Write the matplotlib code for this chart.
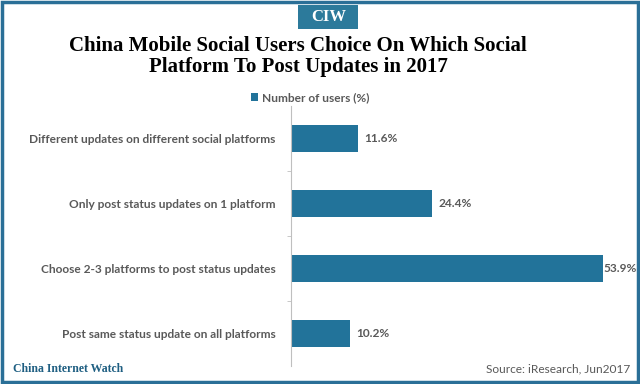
import matplotlib.pyplot as plt
from matplotlib.patches import Rectangle

categories = ["Different updates on different social platforms",
              "Only post status updates on 1 platform",
              "Choose 2-3 platforms to post status updates",
              "Post same status update on all platforms"]
values = [11.6, 24.4, 53.9, 10.2]
series_name = "Number of users (%)"

blue = "#22739a"
grey = "#595959"

fig = plt.figure(figsize=(6.4, 3.84), dpi=100)

# frame around the picture
fig.patches.append(Rectangle((0.003, 0.005), 0.994, 0.99, transform=fig.transFigure,
                             fill=False, edgecolor="#2a6f97", linewidth=2.5))
fig.patches.append(Rectangle((0.466, 0.925), 0.094, 0.062, transform=fig.transFigure,
                             facecolor="#2c7a9b", edgecolor="none"))
fig.text(0.513, 0.956, "CIW", ha="center", va="center", color="white",
         fontsize=12, fontweight="bold", family="Liberation Serif")

fig.text(0.466, 0.853, "China Mobile Social Users Choice On Which Social\nPlatform To Post Updates in 2017",
         ha="center", va="center", fontsize=15, fontweight="bold",
         family="Liberation Serif", linespacing=1.1)

ax = fig.add_axes([291 / 640, 1 - 366 / 384, 330 / 640, 260 / 384])
y = range(len(categories))
bars = ax.barh(y, values, height=0.41, color=blue, label=series_name)
ax.set_ylim(len(categories) - 0.5, -0.5)
ax.set_xlim(0, 57)
ax.set_yticks(list(y))
ax.set_yticklabels(categories, fontsize=8.6, color=grey, family="Lato", fontweight="bold")
ax.tick_params(axis="y", length=0, pad=11)
ax.set_yticks([0.5, 1.5, 2.5], minor=True)
ax.tick_params(axis="y", which="minor", length=3, color="#bfbfbf")
ax.set_xticks([])
for s in ["top", "right", "bottom"]:
    ax.spines[s].set_visible(False)
ax.spines["left"].set_color("#bfbfbf")

for b, v in zip(bars, values):
    ax.text(v + 1.0 if v < 50 else v, b.get_y() + b.get_height() / 2, f"{v}%",
            va="center", ha="left", fontsize=8.6, color=grey, family="Lato",
            fontweight="bold")

fig.legend(handles=[bars], labels=[series_name], loc="center", bbox_to_anchor=(0.485, 0.745),
           frameon=False, handlelength=0.6, handleheight=0.6,
           handletextpad=0.3, prop={"family": "Lato", "size": 8.6, "weight": "bold"})
for t in fig.legends[0].get_texts():
    t.set_color(grey)

fig.text(0.02, 0.038, "China Internet Watch", ha="left", va="center", fontsize=8.5,
         fontweight="bold", color="#1f5f82", family="Liberation Serif")
fig.text(0.985, 0.038, "Source: iResearch, Jun2017", ha="right", va="center",
         fontsize=8.6, color=grey, family="Lato")

fig.savefig("out.png", dpi=100)
